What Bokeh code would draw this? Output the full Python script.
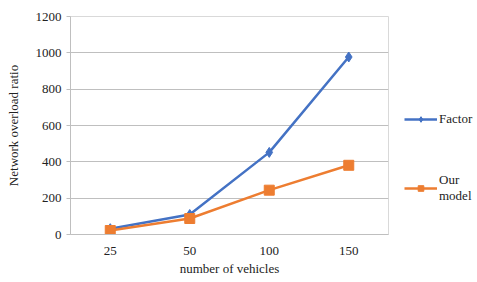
from bokeh.plotting import figure
from bokeh.layouts import row
from bokeh.models import Legend, LegendItem, FixedTicker, Range1d, FactorRange
from bokeh.embed import file_html
from bokeh.resources import INLINE

categories = ["25", "50", "100", "150"]
factor_vals = [32, 110, 452, 977]
ours_vals = [22, 88, 244, 381]
y_ticks = [0, 200, 400, 600, 800, 1000, 1200]
series_names = ["Factor", "Our\nmodel"]

FONT = "Liberation Serif"
BLUE = "#4472C4"
ORANGE = "#ED7D31"
TXT = "#222222"

p = figure(width=390, height=278, x_range=FactorRange(*categories, range_padding=0),
           y_range=Range1d(0, 1200), output_backend="svg", toolbar_location=None,
           min_border_left=70, min_border_right=2, min_border_top=16, min_border_bottom=43)
p.x_range.factor_padding = 0

p.outline_line_color = "#d9d9d9"
p.background_fill_color = "white"
p.border_fill_color = "white"

line_kw = [dict(line_color=BLUE, line_width=2.5), dict(line_color=ORANGE, line_width=2.5)]
mark_kw = [dict(marker="diamond", size=10, fill_color=BLUE, line_color=BLUE),
           dict(marker="square", size=10, fill_color=ORANGE, line_color=ORANGE)]
series_vals = [factor_vals, ours_vals]

for i, vals in enumerate(series_vals):
    p.line(categories, vals, **line_kw[i])
    p.scatter(categories, vals, **mark_kw[i])

p.xgrid.grid_line_color = None
p.ygrid.ticker = FixedTicker(ticks=y_ticks[1:-1])
p.ygrid.grid_line_color = "#bfbfbf"
p.ygrid.grid_line_width = 1

p.yaxis.ticker = FixedTicker(ticks=y_ticks)
p.yaxis.axis_line_color = "#bfbfbf"
p.yaxis.major_tick_line_color = "#bfbfbf"
p.yaxis.major_tick_out = 4
p.yaxis.major_tick_in = 0
p.yaxis.minor_tick_line_color = None
p.yaxis.major_label_standoff = 5
p.yaxis.axis_label = "Network overload ratio"
p.yaxis.axis_label_standoff = 12

p.xaxis.axis_line_color = "#bfbfbf"
p.xaxis.major_tick_line_color = None
p.xaxis.minor_tick_line_color = None
p.xaxis.major_label_standoff = 6
p.xaxis.axis_label = "number of vehicles"
p.xaxis.axis_label_standoff = 3

for ax in (p.xaxis[0], p.yaxis[0]):
    ax.major_label_text_font = FONT
    ax.major_label_text_font_size = "13px"
    ax.major_label_text_color = TXT
    ax.axis_label_text_font = FONT
    ax.axis_label_text_font_size = "13px"
    ax.axis_label_text_font_style = "normal"
    ax.axis_label_text_color = TXT

# legend panel (separate figure to the right of the plot area);
# its renderers use the series values, which lie outside this panel's 0..1 range
q = figure(width=85, height=278, x_range=Range1d(0, 1), y_range=Range1d(0, 1),
           output_backend="svg", toolbar_location=None, x_axis_type=None, y_axis_type=None,
           min_border_left=0, min_border_right=0, min_border_top=0, min_border_bottom=0)
q.outline_line_color = None
q.xgrid.grid_line_color = None
q.ygrid.grid_line_color = None

items = []
for i, name in enumerate(series_names):
    vals = series_vals[i]
    lr = q.line(x=vals, y=vals, **line_kw[i])
    mr = q.scatter(x=vals, y=vals, **mark_kw[i])
    items.append(LegendItem(label=name, renderers=[lr, mr]))

legend = Legend(items=items, location=(14, 30))
legend.glyph_width = 33
legend.glyph_height = 14
legend.label_height = 14
legend.label_standoff = 2
legend.spacing = 45
legend.padding = 0
legend.margin = 0
legend.border_line_color = None
legend.background_fill_alpha = 0
legend.label_text_font = FONT
legend.label_text_font_size = "13px"
legend.label_text_color = TXT
q.add_layout(legend)

layout = row(p, q)
open("out.html", "w").write(file_html(layout, INLINE))
